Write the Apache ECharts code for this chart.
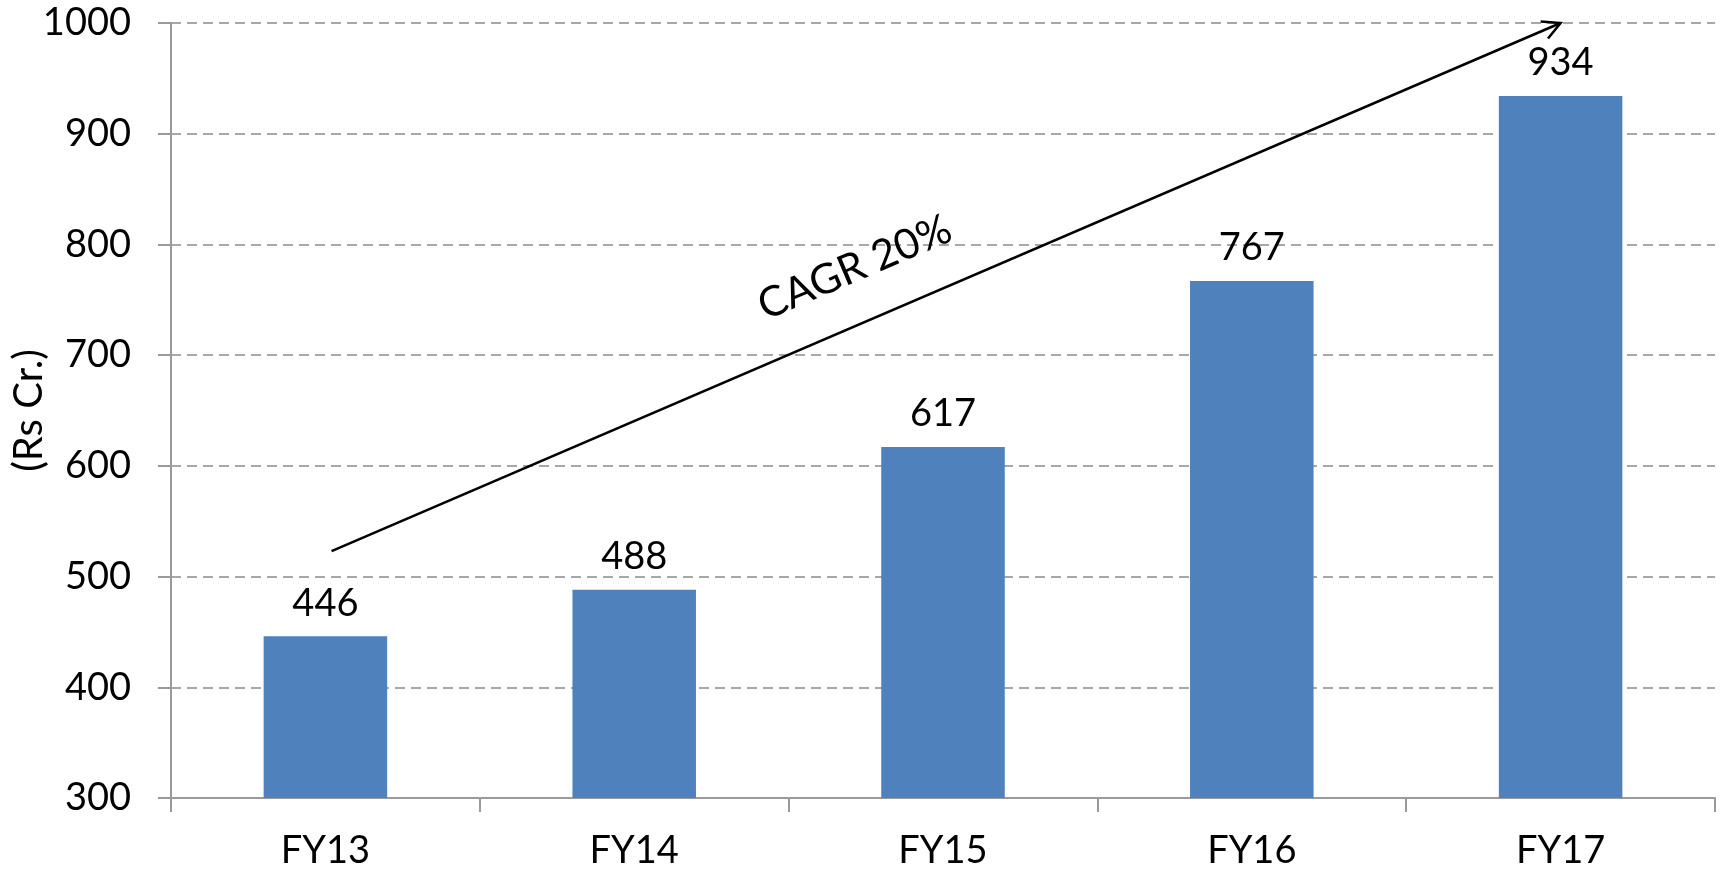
<!DOCTYPE html>
<html>
<head>
<meta charset="utf-8">
<script src="https://cdn.jsdelivr.net/npm/echarts@6/dist/echarts.min.js"></script>
<style>
html,body{margin:0;padding:0;background:#fff;}
#main{width:1721px;height:873px;}
</style>
</head>
<body>
<div id="main"></div>
<script>
const categories = ['FY13', 'FY14', 'FY15', 'FY16', 'FY17'];
const values = [446, 488, 617, 767, 934];
const yAxisTitle = '(Rs Cr.)';
const annotationText = 'CAGR 20%';
// arrow anchors: [category index (fractional), value]
const arrowStart = [0.02, 523];
const arrowEnd = [4.0, 1000];

const FONT = 'Lato';
const chart = echarts.init(document.getElementById('main'));
chart.setOption({
  animation: false,
  backgroundColor: '#ffffff',
  grid: { left: 171, right: 6, top: 23, bottom: 75, containLabel: false, outerBoundsMode: 'none' },
  xAxis: {
    type: 'category',
    data: categories,
    axisLine: { lineStyle: { color: '#9a9a9a', width: 2 } },
    axisTick: { show: true, length: 14, lineStyle: { color: '#9a9a9a', width: 2 } },
    axisLabel: { color: '#000', fontFamily: FONT, fontSize: 38, margin: 34 }
  },
  yAxis: {
    type: 'value',
    min: 300, max: 1000, interval: 100,
    name: yAxisTitle,
    nameLocation: 'middle',
    nameRotate: 90,
    nameGap: 122,
    nameMoveOverlap: false,
    nameTextStyle: { color: '#000', fontFamily: FONT, fontSize: 40 },
    axisLine: { show: true, lineStyle: { color: '#9a9a9a', width: 2 } },
    axisTick: { show: true, length: 13, lineStyle: { color: '#9a9a9a', width: 2 } },
    axisLabel: { color: '#000', fontFamily: FONT, fontSize: 38, margin: 40, formatter: function (v) { return String(v); } },
    splitLine: { show: true, lineStyle: { color: '#8c8c8c', width: 1.5, type: [10, 6] } }
  },
  series: [{
    type: 'bar',
    data: values,
    barCategoryGap: '60%',
    itemStyle: { color: '#4f81bd' },
    label: { show: true, position: 'top', distance: 14, color: '#000', fontFamily: FONT, fontSize: 38 }
  }]
});

function catPx(idx, val) {
  const i0 = Math.floor(idx);
  const i1 = Math.min(i0 + 1, categories.length - 1);
  const p0 = chart.convertToPixel({ gridIndex: 0 }, [categories[i0], val]);
  const p1 = chart.convertToPixel({ gridIndex: 0 }, [categories[i1], val]);
  const f = idx - i0;
  return [p0[0] + (p1[0] - p0[0]) * f, p0[1]];
}
const s = catPx(arrowStart[0], arrowStart[1]);
const e = catPx(arrowEnd[0], arrowEnd[1]);
const dx = e[0] - s[0], dy = e[1] - s[1];
const len = Math.sqrt(dx * dx + dy * dy);
const ux = dx / len, uy = dy / len;
const ang = Math.atan2(dy, dx);
const headLen = 20, headAng = Math.PI / 6.5;
function rot(a) { return [Math.cos(a), Math.sin(a)]; }
const h1 = rot(ang + Math.PI - headAng), h2 = rot(ang + Math.PI + headAng);
const frac = 0.443;
const mx = s[0] + dx * frac, my = s[1] + dy * frac;
// unit normal pointing above the line
const nx = uy, ny = -ux;
const off = 54;
chart.setOption({
  graphic: [
    { type: 'line', shape: { x1: s[0], y1: s[1], x2: e[0], y2: e[1] }, style: { stroke: '#000', lineWidth: 2.5 }, z: 10 },
    { type: 'polyline', shape: { points: [[e[0] + h1[0] * headLen, e[1] + h1[1] * headLen], [e[0], e[1]], [e[0] + h2[0] * headLen, e[1] + h2[1] * headLen]] }, style: { stroke: '#000', lineWidth: 2.5, fill: null }, z: 10 },
    { type: 'text', x: mx + nx * off, y: my + ny * off, rotation: -ang,
      style: { text: annotationText, fill: '#000', font: '42px ' + FONT, align: 'center', verticalAlign: 'middle' }, z: 10 }
  ]
});
</script>
</body>
</html>
